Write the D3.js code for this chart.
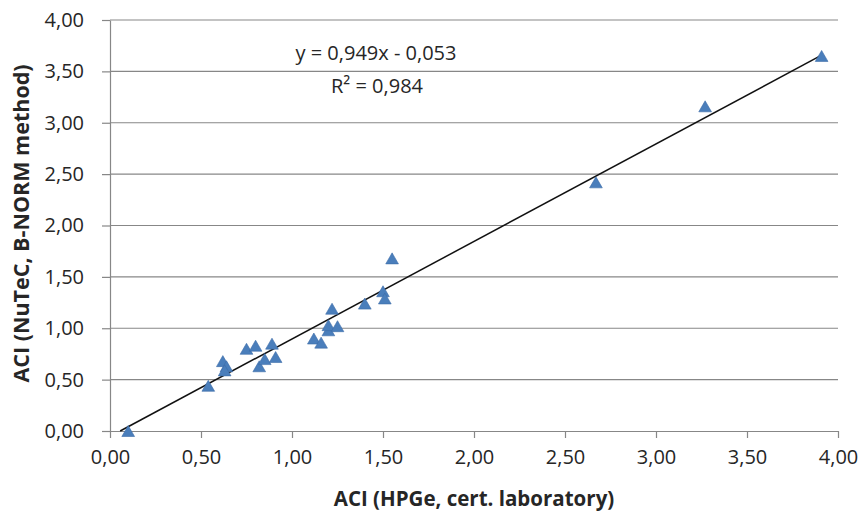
<!DOCTYPE html>
<html>
<head>
<meta charset="utf-8">
<script src="https://cdn.jsdelivr.net/npm/d3@7"></script>
<style>
  body { margin: 0; background: #fff; }
  svg { display: block; }
</style>
</head>
<body>
<div id="chart"></div>
<script>
let xVals = [0.10, 0.54, 0.62, 0.64, 0.63, 0.75, 0.80, 0.82, 0.85, 0.89, 0.91,
             1.12, 1.16, 1.20, 1.20, 1.22, 1.25, 1.40, 1.50, 1.51, 1.55,
             2.67, 3.27, 3.91];
let yVals = [0.00, 0.44, 0.68, 0.63, 0.59, 0.80, 0.83, 0.63, 0.70, 0.85, 0.72,
             0.90, 0.86, 0.98, 1.03, 1.19, 1.02, 1.24, 1.36, 1.29, 1.68,
             2.42, 3.16, 3.65];
let xTicks = [0, 0.5, 1, 1.5, 2, 2.5, 3, 3.5, 4];
let yTicks = [0, 0.5, 1, 1.5, 2, 2.5, 3, 3.5, 4];
let slope = 0.949, intercept = -0.053;
let eqText = 'y = 0,949x - 0,053';
let r2Text = 'R² = 0,984';

let width = 861, height = 516;
let margin = {top: 20, right: 23, bottom: 85, left: 110};
let font = '"Open Sans", sans-serif';

let data = xVals.map((x, i) => [x, yVals[i]]);
let fmt = d => d.toFixed(2).replace('.', ',');

let svg = d3.select('#chart').append('svg')
  .attr('width', width)
  .attr('height', height)
  .style('font-family', font);

let xScale = d3.scaleLinear().domain([0, 4]).range([margin.left, width - margin.right]);
let yScale = d3.scaleLinear().domain([0, 4]).range([height - margin.bottom, margin.top]);

// horizontal gridlines
svg.append('g')
  .selectAll('line')
  .data(yTicks.slice(1))
  .enter().append('line')
  .attr('x1', xScale(0)).attr('x2', xScale(4))
  .attr('y1', d => yScale(d)).attr('y2', d => yScale(d))
  .attr('stroke', '#878787')
  .attr('stroke-width', 1.2);

// y axis
let yAxis = svg.append('g')
  .attr('transform', `translate(${margin.left},0)`)
  .call(d3.axisLeft(yScale).tickValues(yTicks).tickFormat(fmt).tickSize(8).tickPadding(18).tickSizeOuter(0));

// x axis
let xAxis = svg.append('g')
  .attr('transform', `translate(0,${yScale(0)})`)
  .call(d3.axisBottom(xScale).tickValues(xTicks).tickFormat(fmt).tickSize(7).tickPadding(12).tickSizeOuter(0));

[xAxis, yAxis].forEach(a => {
  a.selectAll('.domain, line').attr('stroke', '#878787').attr('stroke-width', 1.2);
  a.selectAll('text').attr('fill', '#262626').style('font-size', '20px').style('font-family', font);
});

// axis titles
svg.append('text')
  .attr('x', xScale(2))
  .attr('y', 506)
  .attr('text-anchor', 'middle')
  .style('font-size', '20.5px')
  .style('font-weight', 'bold')
  .attr('fill', '#262626')
  .text('ACI (HPGe, cert. laboratory)');

svg.append('text')
  .attr('transform', `translate(29,${yScale(2) - 2}) rotate(-90)`)
  .attr('text-anchor', 'middle')
  .style('font-size', '21.5px')
  .style('font-weight', 'bold')
  .attr('fill', '#262626')
  .text('ACI (NuTeC, B-NORM method)');

// trendline
let x0 = -intercept / slope;
let x1 = d3.max(xVals);
svg.append('line')
  .attr('x1', xScale(x0)).attr('y1', yScale(slope * x0 + intercept))
  .attr('x2', xScale(x1)).attr('y2', yScale(slope * x1 + intercept))
  .attr('stroke', '#111')
  .attr('stroke-width', 1.5);

// points (triangle centred on its bounding box, like the spreadsheet marker)
let triSize = 70;
let triH = Math.sqrt(triSize * Math.sqrt(3));
svg.append('g')
  .selectAll('path')
  .data(data)
  .enter().append('path')
  .attr('d', d3.symbol().type(d3.symbolTriangle).size(triSize))
  .attr('transform', d => `translate(${xScale(d[0])},${yScale(d[1]) + triH / 6})`)
  .attr('fill', '#4a7ebb')
  .attr('stroke', '#3d6ca8')
  .attr('stroke-width', 0.6);

// equation labels
svg.append('text')
  .attr('x', 376).attr('y', 60)
  .attr('text-anchor', 'middle')
  .style('font-size', '20px')
  .attr('fill', '#262626')
  .text(eqText);

svg.append('text')
  .attr('x', 377).attr('y', 93)
  .attr('text-anchor', 'middle')
  .style('font-size', '20px')
  .attr('fill', '#262626')
  .text(r2Text);
</script>
</body>
</html>
